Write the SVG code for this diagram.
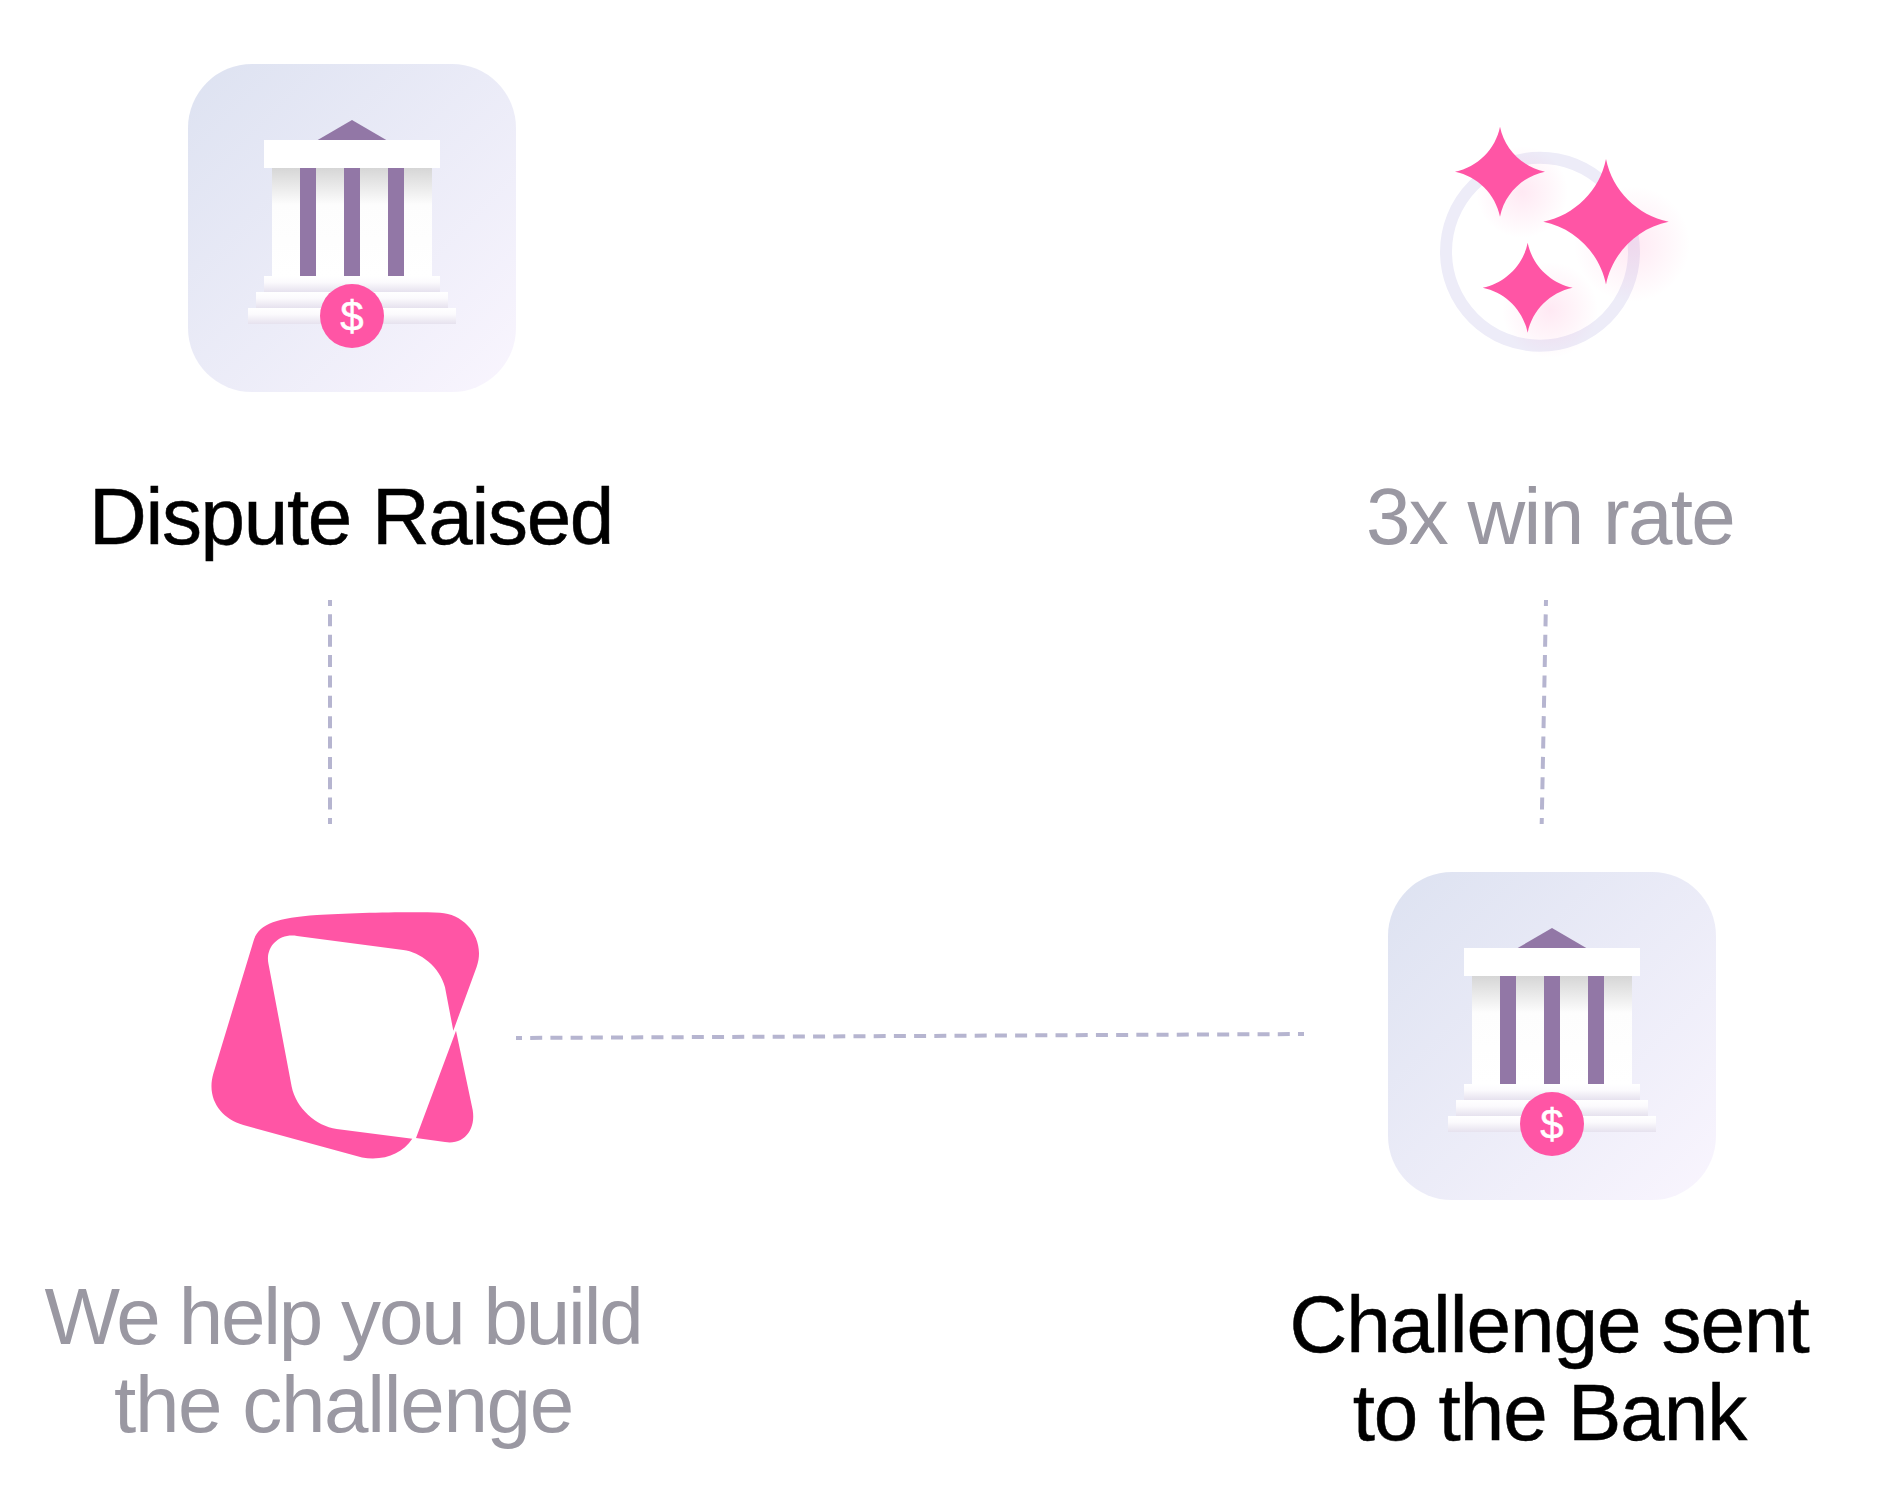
<svg xmlns="http://www.w3.org/2000/svg" xmlns:xlink="http://www.w3.org/1999/xlink" width="1904" height="1500" viewBox="0 0 1904 1500">
<style>
.label{font-family:"Liberation Sans",Arial,sans-serif;font-size:80px;letter-spacing:-1.6px;text-anchor:middle}
.dark{fill:#000;stroke:#000;stroke-width:.5px}
.muted{fill:#9a98a2}
.usd{font-family:"Liberation Sans",Arial,sans-serif;font-size:42px;fill:#fff;stroke:#fff;stroke-width:.5px;text-anchor:middle}
.dash{fill:none;stroke:#b6b5d0;stroke-width:4}
.pink{fill:#ff55a5}
.purple{fill:#9277a6}
</style>
<defs>
<linearGradient id="card" x1="0" y1="0" x2="1" y2="1"><stop offset="0" stop-color="#dde2f1"/><stop offset="1" stop-color="#f9f5fe"/></linearGradient>
<linearGradient id="pillar" x1="0" y1="168" x2="0" y2="276" gradientUnits="userSpaceOnUse"><stop offset="0" stop-color="#d6d6d6"/><stop offset="0.34" stop-color="#fdfdfd"/><stop offset="1" stop-color="#fff"/></linearGradient>
<linearGradient id="step" x1="0" y1="0" x2="0" y2="1"><stop offset="0" stop-color="#fff"/><stop offset="0.4" stop-color="#fbfafd"/><stop offset="1" stop-color="#e6e2ee"/></linearGradient>
<radialGradient id="glow"><stop offset="0" stop-color="#ff55a5" stop-opacity="0.13"/><stop offset="0.55" stop-color="#ff55a5" stop-opacity="0.06"/><stop offset="1" stop-color="#ff55a5" stop-opacity="0"/></radialGradient>
<g id="bank">
<rect x="188" y="64" width="328" height="328" rx="64" fill="url(#card)"/>
<path class="purple" d="M317.7 140L352 120L386.3 140Z"/>
<rect x="272" y="168" width="160" height="108" fill="url(#pillar)"/>
<rect x="264" y="140" width="176" height="28" fill="#fff"/>
<rect class="purple" x="300" y="168" width="16" height="108"/>
<rect class="purple" x="344" y="168" width="16" height="108"/>
<rect class="purple" x="388" y="168" width="16" height="108"/>
<rect x="264" y="276" width="176" height="16" fill="url(#step)"/>
<rect x="256" y="292" width="192" height="16" fill="url(#step)"/>
<rect x="248" y="308" width="208" height="16" fill="url(#step)"/>
<circle class="pink" cx="352" cy="316" r="32"/>
</g>
<path id="spark" class="pink" d="M0-1C.1-.5 .5-.1 1 0C.5 .1 .1 .5 0 1C-.1 .5-.5 .1-1 0C-.5-.1-.1-.5 0-1Z"/>
</defs>
<rect width="1904" height="1500" fill="#fff"/>
<g id="connectors">
<path class="dash" d="M330 600V824" stroke-dasharray="12 8.36" stroke-dashoffset="6"/>
<path class="dash" d="M1546 600L1541.7 824" stroke-dasharray="12 8.36" stroke-dashoffset="6"/>
<path class="dash" d="M516 1038L1304 1034" stroke-dasharray="12 8.205" stroke-dashoffset="6"/>
</g>
<g id="node-dispute-raised">
<use href="#bank"/>
<text class="usd" x="352" y="331">$</text>
<text class="label dark" x="351" y="544" style="letter-spacing:-1.32px">Dispute Raised</text>
</g>
<g id="node-win-rate">
<circle cx="1540" cy="251.7" r="94" fill="none" stroke="#edecf8" stroke-width="12"/>
<circle cx="1522" cy="192" r="46" fill="url(#glow)"/>
<circle cx="1632" cy="244" r="58" fill="url(#glow)"/>
<circle cx="1550" cy="310" r="48" fill="url(#glow)"/>
<use href="#spark" transform="translate(1500 171.7) scale(45)"/>
<use href="#spark" transform="translate(1606 221.7) scale(62.7)"/>
<use href="#spark" transform="translate(1527.7 287.7) scale(45)"/>
<text class="label muted" x="1550" y="544" style="letter-spacing:-1.7px">3x win rate</text>
</g>
<g id="node-build-challenge">
<path class="pink" d="M253.3 941.7C258 924 276 918 317 915C350 913 410 911.5 440 912.7C466 914 486 940 476.7 966.7L453.3 1030.7L445 987.3C440 967 420 952 403.3 950L297 936C278 933 265 948 268.5 964L291.7 1086.7C296 1108 316 1126 336.7 1129L412.3 1138.7C402 1154 384 1161 362 1157.5L243.3 1125C220 1118 206 1098 213.5 1073Z"/>
<path class="pink" d="M456 1030.7L472.7 1110C476 1130 464 1145 445 1142L416 1138Z"/>
<text class="label muted" x="343" y="1344" style="letter-spacing:-2.2px">We help you build</text>
<text class="label muted" x="343.500" y="1432" style="letter-spacing:-1.3px">the challenge</text>
</g>
<g id="node-challenge-sent">
<use href="#bank" transform="translate(1200 808)"/>
<text class="usd" x="1552" y="1139">$</text>
<text class="label dark" x="1549" y="1352" style="letter-spacing:-1.04px">Challenge sent</text>
<text class="label dark" x="1549.500" y="1440" style="letter-spacing:-1px">to the Bank</text>
</g>
</svg>
